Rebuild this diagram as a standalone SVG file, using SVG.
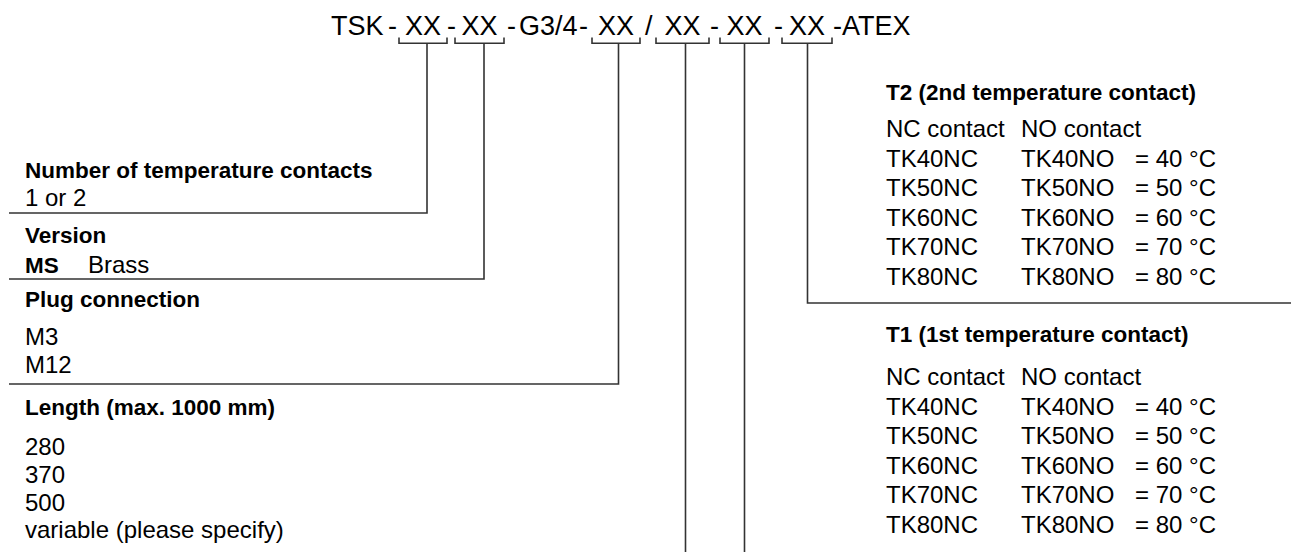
<svg xmlns="http://www.w3.org/2000/svg" width="1291" height="552" viewBox="0 0 1291 552">
<style>
text{font-family:"Liberation Sans",Arial,sans-serif;fill:#000}
.t{font-size:27px}
.b{font-size:22.5px;font-weight:bold}
.r{font-size:24px}
.ln{fill:none;stroke:#333;stroke-width:1.6}
</style>
<rect width="1291" height="552" fill="#fff"/>
<g id="code">
<text class="t" x="331" y="35">TSK</text>
<text class="t" x="388" y="35">-</text>
<text class="t" x="423" y="35" text-anchor="middle">XX</text>
<text class="t" x="447" y="35">-</text>
<text class="t" x="479.5" y="35" text-anchor="middle">XX</text>
<text class="t" x="507" y="35">-</text>
<text class="t" x="519" y="35">G3/4</text>
<text class="t" x="579" y="35">-</text>
<text class="t" x="616" y="35" text-anchor="middle">XX</text>
<text class="t" x="645" y="35">/</text>
<text class="t" x="682.5" y="35" text-anchor="middle">XX</text>
<text class="t" x="710" y="35">-</text>
<text class="t" x="744.5" y="35" text-anchor="middle">XX</text>
<text class="t" x="774" y="35">-</text>
<text class="t" x="807" y="35" text-anchor="middle">XX</text>
<text class="t" x="833" y="35">-ATEX</text>
<path class="ln" d="M399,37.5V43.3H447V37.5M455,37.5V43.3H504V37.5M592,37.5V43.3H640V37.5M656,37.5V43.3H709V37.5M720,37.5V43.3H769V37.5M782,37.5V43.3H832V37.5"/>
</g>
<g id="contacts">
<text class="b" x="25" y="178">Number of temperature contacts</text>
<text class="r" x="25" y="206">1 or 2</text>
</g>
<g id="version">
<text class="b" x="25" y="243">Version</text>
<text class="b" x="25" y="273">MS</text>
<text class="r" x="88" y="273">Brass</text>
</g>
<g id="plug">
<text class="b" x="25" y="307">Plug connection</text>
<text class="r" x="25" y="345">M3</text>
<text class="r" x="25" y="373">M12</text>
</g>
<g id="length">
<text class="b" x="25" y="415">Length (max. 1000 mm)</text>
<text class="r" x="25" y="455">280</text>
<text class="r" x="25" y="483">370</text>
<text class="r" x="25" y="511">500</text>
<text class="r" x="25" y="538">variable (please specify)</text>
</g>
<g id="t2">
<text class="b" x="886" y="100">T2 (2nd temperature contact)</text>
<text class="r" x="886" y="137">NC contact</text>
<text class="r" x="1021" y="137">NO contact</text>
<text class="r" x="886" y="166.6">TK40NC</text><text class="r" x="1021" y="166.6">TK40NO</text><text class="r" x="1135" y="166.6">= 40 °C</text>
<text class="r" x="886" y="196.2">TK50NC</text><text class="r" x="1021" y="196.2">TK50NO</text><text class="r" x="1135" y="196.2">= 50 °C</text>
<text class="r" x="886" y="225.8">TK60NC</text><text class="r" x="1021" y="225.8">TK60NO</text><text class="r" x="1135" y="225.8">= 60 °C</text>
<text class="r" x="886" y="255.4">TK70NC</text><text class="r" x="1021" y="255.4">TK70NO</text><text class="r" x="1135" y="255.4">= 70 °C</text>
<text class="r" x="886" y="285">TK80NC</text><text class="r" x="1021" y="285">TK80NO</text><text class="r" x="1135" y="285">= 80 °C</text>
</g>
<g id="t1">
<text class="b" x="886" y="342">T1 (1st temperature contact)</text>
<text class="r" x="886" y="385">NC contact</text>
<text class="r" x="1021" y="385">NO contact</text>
<text class="r" x="886" y="414.6">TK40NC</text><text class="r" x="1021" y="414.6">TK40NO</text><text class="r" x="1135" y="414.6">= 40 °C</text>
<text class="r" x="886" y="444.2">TK50NC</text><text class="r" x="1021" y="444.2">TK50NO</text><text class="r" x="1135" y="444.2">= 50 °C</text>
<text class="r" x="886" y="473.8">TK60NC</text><text class="r" x="1021" y="473.8">TK60NO</text><text class="r" x="1135" y="473.8">= 60 °C</text>
<text class="r" x="886" y="503.4">TK70NC</text><text class="r" x="1021" y="503.4">TK70NO</text><text class="r" x="1135" y="503.4">= 70 °C</text>
<text class="r" x="886" y="533">TK80NC</text><text class="r" x="1021" y="533">TK80NO</text><text class="r" x="1135" y="533">= 80 °C</text>
</g>
<g id="connectors">
<polyline class="ln" points="9,213 427,213 427,43.3"/>
<polyline class="ln" points="9,279 484,279 484,43.3"/>
<polyline class="ln" points="9,384 618.5,384 618.5,43.3"/>
<polyline class="ln" points="685.5,43.3 685.5,552"/>
<polyline class="ln" points="744.5,43.3 744.5,552"/>
<polyline class="ln" points="807.5,43.3 807.5,303 1291,303"/>
</g>
</svg>
